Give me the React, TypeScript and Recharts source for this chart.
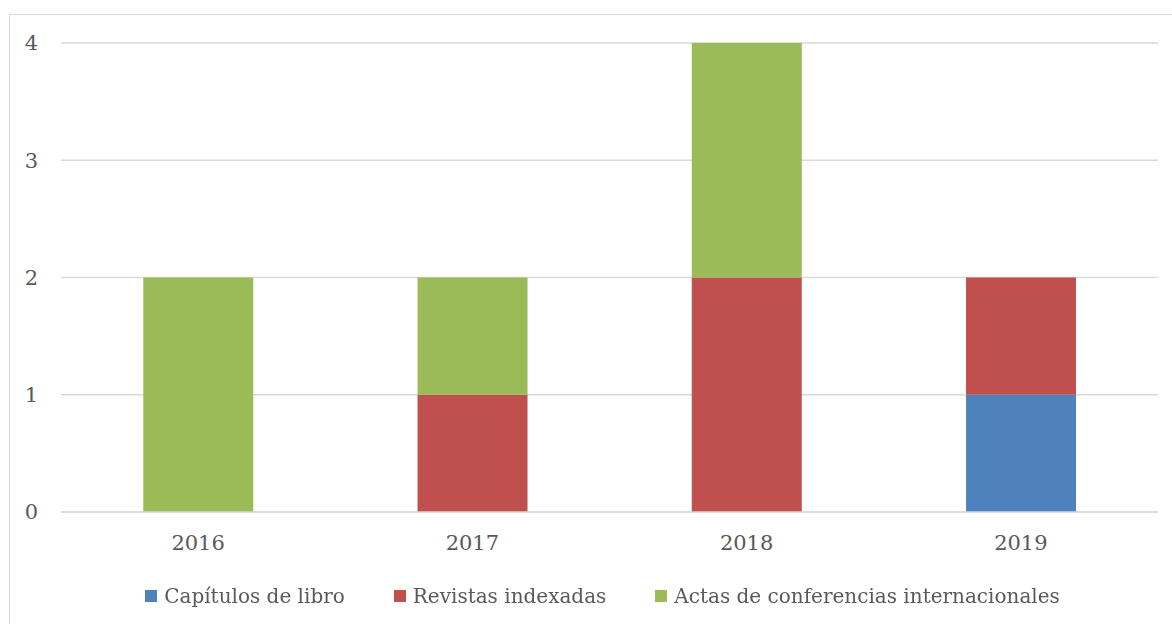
import { BarChart, Bar, XAxis, YAxis, CartesianGrid, Legend } from "recharts";

const years = ["2016", "2017", "2018", "2019"];
const capitulos = [0, 0, 0, 1];
const revistas = [0, 1, 2, 1];
const actas = [2, 1, 2, 0];
const yTicks = [0, 1, 2, 3, 4];

const SERIES = [
  { key: "capitulos", name: "Capítulos de libro", color: "#4f81bd" },
  { key: "revistas", name: "Revistas indexadas", color: "#c0504d" },
  { key: "actas", name: "Actas de conferencias internacionales", color: "#9bbb59" },
];

const data = years.map((y, i) => ({
  year: y,
  capitulos: capitulos[i],
  revistas: revistas[i],
  actas: actas[i],
}));

const FONT = "'DejaVu Serif', serif";
const TEXT = "#595959";

function LegendBox() {
  return (
    <div style={{ display: "flex", justifyContent: "center", gap: 49, fontFamily: FONT, fontSize: 20, color: TEXT }}>
      {SERIES.map((s) => (
        <div key={s.key} style={{ display: "flex", alignItems: "center" }}>
          <span style={{ width: 12, height: 12, background: s.color, marginRight: 7, display: "inline-block" }} />
          <span>{s.name}</span>
        </div>
      ))}
    </div>
  );
}

export default function App() {
  return (
    <div
      style={{
        position: "fixed",
        left: 9,
        top: 14,
        width: 1163,
        height: 620,
        border: "1px solid #d9d9d9",
        background: "#fff",
      }}
    >
      <BarChart
        width={1163}
        height={610}
        data={data}
        margin={{ top: 28, right: 15, bottom: 53, left: 0 }}
        barCategoryGap="30%"
      >
        <CartesianGrid vertical={false} stroke="#d9d9d9" strokeWidth={1.5} />
        <XAxis
          dataKey="year"
          height={60}
          axisLine={{ stroke: "#d9d9d9", strokeWidth: 1.5 }}
          tickLine={false}
          tickSize={0}
          tickMargin={23}
          tick={{ fill: TEXT, fontSize: 21, fontFamily: FONT }}
        />
        <YAxis
          width={51}
          domain={[0, 4]}
          ticks={yTicks}
          axisLine={false}
          tickLine={false}
          tickSize={0}
          tickMargin={23}
          tick={{ fill: TEXT, fontSize: 21, fontFamily: FONT }}
        />
        <Legend
          layout="horizontal"
          verticalAlign="middle"
          align="center"
          wrapperStyle={{ top: 569, left: 11, width: 1163 }}
          content={() => <LegendBox />}
        />
        {SERIES.map((s) => (
          <Bar key={s.key} dataKey={s.key} name={s.name} stackId="a" fill={s.color} isAnimationActive={false} />
        ))}
      </BarChart>
    </div>
  );
}
